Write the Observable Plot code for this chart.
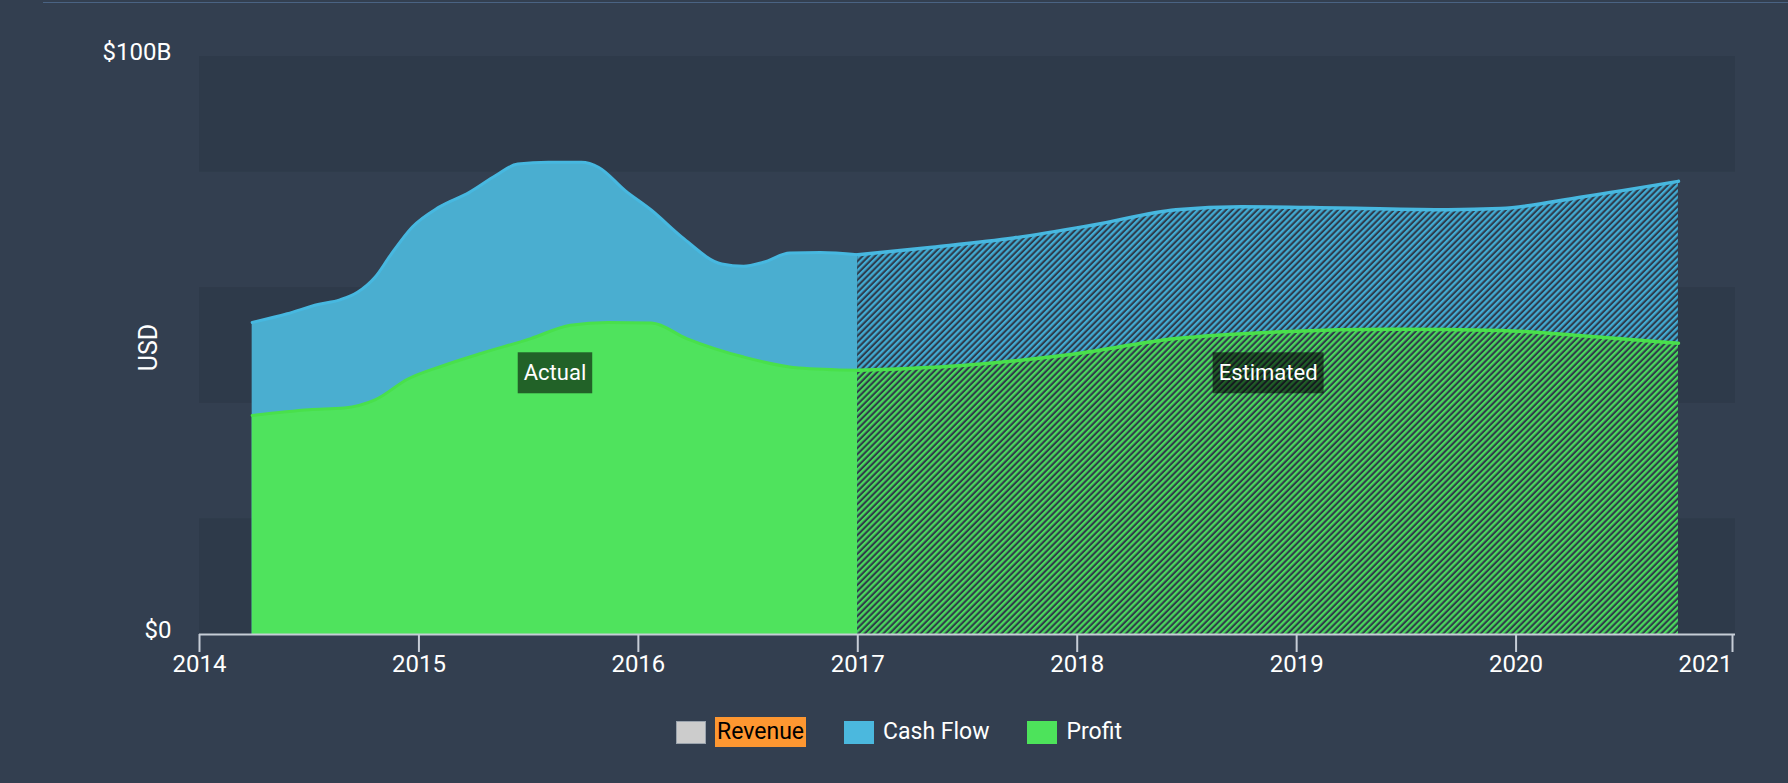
<!DOCTYPE html>
<html>
<head>
<meta charset="utf-8">
<script src="https://cdn.jsdelivr.net/npm/d3@7"></script>
<script src="https://cdn.jsdelivr.net/npm/@observablehq/plot@0.6"></script>
<style>
  html, body { margin: 0; padding: 0; background: #333f50; width: 1788px; height: 783px; overflow: hidden; font-family: Roboto, sans-serif; }
  #topline { position: absolute; left: 43px; right: 0; top: 2px; height: 1px; background: #4a6383; }
  #chart { position: absolute; left: 0; top: 0; }
  #legend { position: absolute; top: 717px; left: 5px; width: 1788px; height: 30px; display: flex; justify-content: center; align-items: center; font-size: 23px; color: #fff; }
  .item { display: flex; align-items: center; margin: 0 19px; }
  .sw { display: inline-block; width: 30px; height: 23px; margin-right: 9px; box-sizing: border-box; }
  .lab { line-height: 30px; }
  .rev { background: #fe9731; color: #000; padding: 0 2px; }
</style>
</head>
<body>
<div id="topline"></div>
<div id="chart"></div>
<div id="legend"></div>
<script>
// ---- data (USD billions, decimal years) ----
const actualYears    = [2014.24, 2014.40, 2014.54, 2014.64, 2014.72, 2014.80, 2014.87, 2014.97, 2015.09, 2015.23, 2015.35, 2015.45, 2015.59, 2015.74, 2015.82, 2015.94, 2016.06, 2016.20, 2016.38, 2016.48, 2016.57, 2016.69, 2016.83, 2017.00];
const actualCashFlow = [54.0, 55.5, 57.1, 57.9, 59.2, 61.8, 65.6, 70.5, 73.9, 76.5, 79.4, 81.4, 81.7, 81.7, 80.8, 76.8, 73.4, 68.7, 64.1, 63.7, 64.4, 66.0, 66.1, 65.7];
const actualProfitYears = [2014.24, 2014.50, 2014.66, 2014.80, 2014.95, 2015.11, 2015.29, 2015.51, 2015.69, 2015.86, 2016.06, 2016.22, 2016.48, 2016.73, 2017.00];
const actualProfit      = [37.9, 38.9, 39.2, 40.6, 44.2, 46.5, 48.7, 51.2, 53.5, 54.0, 53.9, 51.2, 48.0, 46.1, 45.7];

const estCashFlowYears = [2017.00, 2017.34, 2017.71, 2018.08, 2018.45, 2018.75, 2019.19, 2019.69, 2019.93, 2020.30, 2020.74];
const estCashFlow      = [65.7, 67.0, 68.6, 70.9, 73.5, 74.0, 73.8, 73.5, 73.7, 75.7, 78.4];
const estProfitYears   = [2017.00, 2017.46, 2017.96, 2018.45, 2018.94, 2019.44, 2019.93, 2020.30, 2020.74];
const estProfit        = [45.7, 46.5, 48.4, 51.2, 52.4, 52.8, 52.6, 51.7, 50.4];

const xTicks = [2014, 2015, 2016, 2017, 2018, 2019, 2020, 2021];
const yTicks = [0, 100];
const yTickLabels = ["$0", "$100B"];
const bandLow  = [0, 40, 80];
const bandHigh = [20, 60, 100];

const labelNames = ["Actual", "Estimated"];
const labelYears = [2015.62, 2018.87];
const labelValues = [45.2, 45.2];

const legendNames = ["Revenue", "Cash Flow", "Profit"];
const legendColors = ["#cccccc", "#4bb8de", "#4de35b"];

// ---- styles ----
const cfFill = "#4aaed0", cfLine = "#47b8e0", cfHatch = "#42abd3";
const prFill = "#4fe35d", prLine = "#49e04b", prHatch = "#4bd85c";

const zip = (xs, ys) => xs.map((x, i) => ({x, y: ys[i]}));
const actCF = zip(actualYears, actualCashFlow);
const actPR = zip(actualProfitYears, actualProfit);
const estCF = zip(estCashFlowYears, estCashFlow);
const estPR = zip(estProfitYears, estProfit);
const bands = bandLow.map((lo, i) => ({lo, hi: bandHigh[i]}));
const labels = labelNames.map((name, i) => ({name, x: labelYears[i], y: labelValues[i]}));

const curve = "monotone-x";

const plot = Plot.plot({
  width: 1788,
  height: 680,
  marginLeft: 199,
  marginRight: 53,
  marginTop: 56,
  marginBottom: 46,
  style: {background: "transparent", color: "#ffffff", fontFamily: "Roboto, sans-serif", fontSize: "24px", overflow: "visible"},
  x: {domain: [2014, 2021], label: null, axis: null},
  y: {domain: [0, 100], label: null, axis: null},
  marks: [
    Plot.rect(bands, {x1: () => 2014, x2: () => 2021, y1: "lo", y2: "hi", fill: "#2e3a4a"}),
    // actual
    Plot.areaY(actCF, {x: "x", y: "y", fill: cfFill, curve}),
    Plot.lineY(actCF, {x: "x", y: "y", stroke: cfLine, strokeWidth: 3, curve}),
    Plot.areaY(actPR, {x: "x", y: "y", fill: prFill, curve}),
    Plot.lineY(actPR, {x: "x", y: "y", stroke: prLine, strokeWidth: 3, curve}),
    // estimated (hatched)
    Plot.areaY(estCF, {x: "x", y: "y", fill: "url(#hatch-cf)", curve}),
    Plot.areaY(estPR, {x: "x", y: "y", fill: "url(#hatch-pr)", curve}),
    Plot.lineY(estCF, {x: "x", y: "y", stroke: cfLine, strokeWidth: 3.5, curve}),
    Plot.lineY(estPR, {x: "x", y: "y", stroke: prLine, strokeWidth: 3.5, curve}),
    // axes
    Plot.ruleY([0], {stroke: "#c6cdd6", strokeWidth: 2}),
    Plot.axisX({ticks: xTicks.slice(0, -1), tickFormat: d => String(d), tickSize: 18, tickPadding: 2, stroke: "#c6cdd6", strokeWidth: 2, strokeOpacity: 1, fill: "#ffffff", fontSize: 24, label: null}),
    Plot.axisX({ticks: xTicks.slice(-1), tickFormat: d => String(d), tickSize: 18, tickPadding: 2, stroke: "#c6cdd6", strokeWidth: 2, strokeOpacity: 1, fill: "#ffffff", fontSize: 24, textAnchor: "end", dx: -3, label: null}),
    Plot.axisY({ticks: yTicks, tickFormat: d => yTickLabels[yTicks.indexOf(d)], tickSize: 0, tickPadding: 28, fill: "#ffffff", fontSize: 24, dy: -4, label: null}),
    Plot.text(["USD"], {text: d => d, frameAnchor: "left", textAnchor: "middle", rotate: -90, dx: -51, dy: 2, fontSize: 25, fill: "#ffffff"}),
    // labels
    Plot.text(labels, {x: "x", y: "y", text: "name", fontSize: 22, fill: "#ffffff", className: "phase-label", lineAnchor: "middle"})
  ]
});

document.getElementById("chart").appendChild(plot);

// hatch patterns
const ns = "http://www.w3.org/2000/svg";
const defs = document.createElementNS(ns, "defs");
for (const [id, color, bg] of [["hatch-cf", cfHatch, "#2e3d4d"], ["hatch-pr", prHatch, "#2f3d49"]]) {
  const p = document.createElementNS(ns, "pattern");
  p.setAttribute("id", id);
  p.setAttribute("patternUnits", "userSpaceOnUse");
  p.setAttribute("width", 4.4);
  p.setAttribute("height", 4.4);
  p.setAttribute("patternTransform", "rotate(45)");
  const b = document.createElementNS(ns, "rect");
  b.setAttribute("width", 4.4); b.setAttribute("height", 4.4); b.setAttribute("fill", bg);
  const r = document.createElementNS(ns, "rect");
  r.setAttribute("width", 2.3); r.setAttribute("height", 4.4); r.setAttribute("fill", color);
  p.appendChild(b); p.appendChild(r);
  defs.appendChild(p);
}
plot.insertBefore(defs, plot.firstChild);

// label boxes
plot.querySelectorAll("g.phase-label text").forEach(t => {
  const bb = t.getBBox();
  const cy = bb.y + bb.height / 2;
  const r = document.createElementNS(ns, "rect");
  r.setAttribute("x", bb.x - 6);
  r.setAttribute("width", bb.width + 12);
  r.setAttribute("y", cy - 20.5);
  r.setAttribute("height", 41);
  r.setAttribute("fill", "rgba(0,0,0,0.57)");
  const tr = t.getAttribute("transform");
  if (tr) r.setAttribute("transform", tr);
  t.parentNode.insertBefore(r, t);
});

// legend
const legend = document.getElementById("legend");
legendNames.forEach((name, i) => {
  const item = document.createElement("div");
  item.className = "item";
  const sw = document.createElement("span");
  sw.className = "sw";
  sw.style.background = legendColors[i];
  if (i === 0) sw.style.border = "1px solid #9aa3ad";
  const lab = document.createElement("span");
  lab.className = "lab" + (i === 0 ? " rev" : "");
  lab.textContent = name;
  item.appendChild(sw); item.appendChild(lab);
  legend.appendChild(item);
});
</script>
</body>
</html>
